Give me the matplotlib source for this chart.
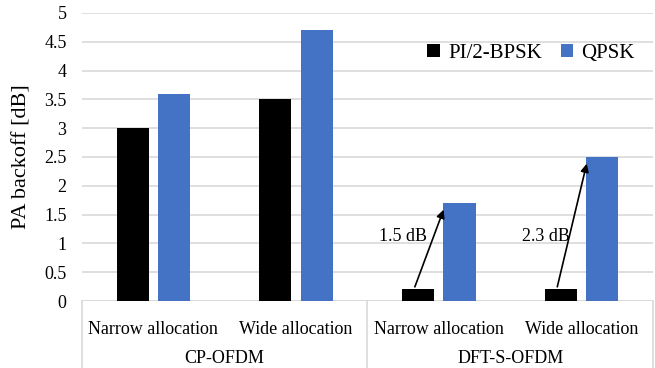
import numpy as np
import matplotlib.pyplot as plt

plt.rcParams['font.family'] = ['Liberation Serif', 'DejaVu Serif']

# Data
allocations = ['Narrow allocation', 'Wide allocation', 'Narrow allocation', 'Wide allocation']
waveforms = ['CP-OFDM', 'DFT-S-OFDM']
bpsk = [3.0, 3.5, 0.2, 0.2]
qpsk = [3.6, 4.7, 1.7, 2.5]
yticks = [0, 0.5, 1, 1.5, 2, 2.5, 3, 3.5, 4, 4.5, 5]

x = np.arange(len(allocations))
w = 0.225
off = 0.145
grid_col = '#d9d9d9'

fig = plt.figure(figsize=(6.55, 3.68), dpi=100)
ax = fig.add_axes([0.125, 0.182, 0.872, 0.783])

ax.bar(x - off, bpsk, w, color='black', label='PI/2-BPSK', zorder=3)
ax.bar(x + off, qpsk, w, color='#4472C4', label='QPSK', zorder=3)

ax.set_xlim(-0.5, 3.5)
ax.set_ylim(0, 5)
ax.set_yticks(yticks)
ax.set_yticklabels([f'{t:g}' for t in yticks], fontsize=13)
ax.yaxis.grid(True, color=grid_col, linewidth=1.2, zorder=0)
ax.tick_params(axis='y', length=0, pad=11)
ax.tick_params(axis='x', length=0)
ax.set_xticks([])
for s in ax.spines.values():
    s.set_visible(False)
ax.axhline(0, color=grid_col, linewidth=1.2, zorder=2)
ax.set_ylabel('PA backoff [dB]', fontsize=16, labelpad=9)

# Difference arrows for DFT-S-OFDM
for i in (2, 3):
    diff = qpsk[i] - bpsk[i]
    ax.annotate('', xy=(x[i] + 0.04, qpsk[i] - 0.07), xytext=(x[i] - off - 0.03, bpsk[i]),
                arrowprops=dict(arrowstyle='-|>', color='black', lw=1.2, mutation_scale=12),
                zorder=4)
    ax.text(x[i] - 0.25, 1.12, f'{diff:.1f} dB', ha='center', va='center', fontsize=13, zorder=5)

# Two-level category axis
tr = ax.get_xaxis_transform()
for i, lab in enumerate(allocations):
    ax.text(x[i], -0.1, lab, transform=tr, ha='center', va='center', fontsize=13)
for j, lab in enumerate(waveforms):
    ax.text(1 + 2 * j - 0.5, -0.2, lab, transform=tr, ha='center', va='center', fontsize=13)
for xb in (-0.5, 1.5, 3.5):
    ax.plot([xb, xb], [0, -0.3], transform=tr, color=grid_col, lw=1.2, clip_on=False)

ax.legend(loc='upper right', bbox_to_anchor=(0.99, 0.935), ncol=2, frameon=False, fontsize=15,
          handlelength=0.6, handleheight=0.6, handletextpad=0.4, columnspacing=0.9,
          borderaxespad=0.2)

fig.savefig('out.png', dpi=100)
